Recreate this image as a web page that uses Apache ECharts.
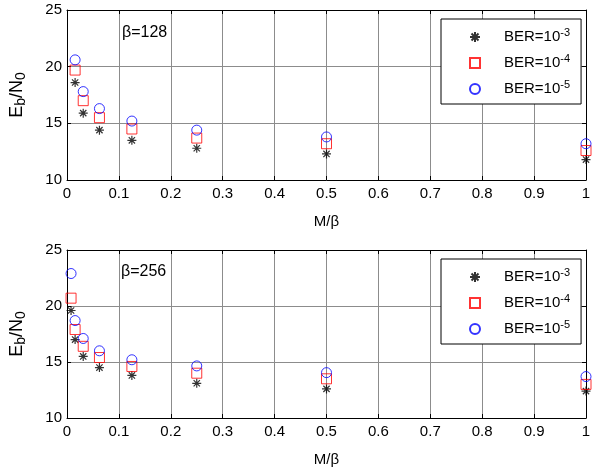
<!DOCTYPE html>
<html>
<head>
<meta charset="utf-8">
<script src="https://cdn.jsdelivr.net/npm/echarts@6/dist/echarts.min.js"></script>
<style>
  html, body { margin: 0; padding: 0; background: #fff; }
  #graphs { width: 595px; height: 468px; }
</style>
</head>
<body>
<div id="graphs"></div>
<script>
// values
var berNames = ['BER=10^-3', 'BER=10^-4', 'BER=10^-5'];
var xTicks = [0, 0.1, 0.2, 0.3, 0.4, 0.5, 0.6, 0.7, 0.8, 0.9, 1];
var yTicks = [10, 15, 20, 25];

// beta = 128, M/beta
var xTop = [0.015625, 0.03125, 0.0625, 0.125, 0.25, 0.5, 1];
var ber3Top = [18.6, 15.9, 14.4, 13.5, 12.8, 12.3, 11.8];
var ber4Top = [19.7, 17.0, 15.5, 14.5, 13.7, 13.2, 12.6];
var ber5Top = [20.6, 17.8, 16.3, 15.2, 14.4, 13.8, 13.2];

// beta = 256
var xBot = [0.0078125, 0.015625, 0.03125, 0.0625, 0.125, 0.25, 0.5, 1];
var ber3Bot = [19.6, 17.0, 15.5, 14.5, 13.8, 13.1, 12.6, 12.4];
var ber4Bot = [20.7, 17.9, 16.4, 15.4, 14.6, 14.0, 13.5, 13.0];
var ber5Bot = [22.9, 18.7, 17.1, 16.0, 15.2, 14.65, 14.05, 13.7];

var font = 'Liberation Sans, Arial, sans-serif';
var starPath = 'path://M5,0L5,10M0,5L10,5M1.5,1.5L8.5,8.5M1.5,8.5L8.5,1.5';

var myChart = echarts.init(document.getElementById('graphs'));

function pairs(xs, ys) {
    return xs.map(function (x, i) { return [x, ys[i]]; });
}

function xAxes(g) {
    return [{
        gridIndex: g, type: 'value', position: 'bottom',
        min: xTicks[0], max: xTicks[xTicks.length - 1], interval: 0.1,
        axisLine: { onZero: false, lineStyle: { color: '#000', width: 1 } },
        axisTick: { inside: true, length: 4, lineStyle: { color: '#000' } },
        axisLabel: { color: '#000', fontSize: 15, fontFamily: font, margin: 6 },
        splitLine: { show: true, lineStyle: { color: '#8c8c8c', width: 1 } },
        name: 'M/β', nameLocation: 'middle', nameGap: 34,
        nameTextStyle: { color: '#000', fontSize: 15, fontFamily: font }
    }, {
        gridIndex: g, type: 'value', position: 'top',
        min: xTicks[0], max: xTicks[xTicks.length - 1], interval: 0.1,
        axisLine: { onZero: false, lineStyle: { color: '#000', width: 1 } },
        axisTick: { inside: true, length: 4, lineStyle: { color: '#000' } },
        axisLabel: { show: false },
        splitLine: { show: false }
    }];
}

function yAxes(g) {
    return [{
        gridIndex: g, type: 'value', position: 'left',
        min: yTicks[0], max: yTicks[yTicks.length - 1], interval: 5,
        axisLine: { show: true, onZero: false, lineStyle: { color: '#000', width: 1 } },
        axisTick: { show: true, inside: true, length: 4, lineStyle: { color: '#000' } },
        axisLabel: { color: '#000', fontSize: 15, fontFamily: font, margin: 5 },
        splitLine: { show: true, lineStyle: { color: '#8c8c8c', width: 1 } },
        name: '{a|E}{s|b}{a|/N}{s|0}', nameLocation: 'middle', nameGap: 39, nameRotate: 90,
        nameTextStyle: {
            color: '#000', fontFamily: font,
            rich: {
                a: { fontSize: 18, fontFamily: font, color: '#000' },
                s: { fontSize: 14, fontFamily: font, color: '#000', padding: [8, 0, 0, 0] }
            }
        }
    }, {
        gridIndex: g, type: 'value', position: 'right',
        min: yTicks[0], max: yTicks[yTicks.length - 1], interval: 5,
        axisLine: { show: true, onZero: false, lineStyle: { color: '#000', width: 1 } },
        axisTick: { show: true, inside: true, length: 4, lineStyle: { color: '#000' } },
        axisLabel: { show: false },
        splitLine: { show: false }
    }];
}

function legendFor(top) {
    return {
        orient: 'vertical', left: 441, top: top,
        data: berNames,
        backgroundColor: '#fff', borderColor: '#000', borderWidth: 1, borderRadius: 0,
        padding: [8, 11, 5, 28],
        itemWidth: 10, itemHeight: 10, itemGap: 6,
        selectedMode: false,
        formatter: function (name) {
            return '{a|' + name.split('^')[0] + '}{s|' + name.split('^')[1] + '}';
        },
        textStyle: {
            rich: {
                a: { fontSize: 15, fontFamily: font, color: '#000', lineHeight: 14, padding: [0, 0, 0, 19] },
                s: { fontSize: 11, fontFamily: font, color: '#000', padding: [0, 0, 9, 0], lineHeight: 14 }
            }
        }
    };
}

function seriesFor(xi, xs, b3, b4, b5) {
    return [{
        name: berNames[0], type: 'scatter', xAxisIndex: xi, yAxisIndex: xi,
        symbol: starPath, symbolSize: 9,
        itemStyle: { color: 'rgba(0,0,0,0)', borderColor: '#000', borderWidth: 1.2 },
        data: pairs(xs, b3)
    }, {
        name: berNames[1], type: 'scatter', xAxisIndex: xi, yAxisIndex: xi,
        symbol: 'rect', symbolSize: 10,
        itemStyle: { color: 'rgba(0,0,0,0)', borderColor: '#ff0000', borderWidth: 1 },
        data: pairs(xs, b4)
    }, {
        name: berNames[2], type: 'scatter', xAxisIndex: xi, yAxisIndex: xi,
        symbol: 'circle', symbolSize: 10,
        itemStyle: { color: 'rgba(0,0,0,0)', borderColor: '#0000ff', borderWidth: 1 },
        data: pairs(xs, b5)
    }];
}

var option = {
    backgroundColor: '#fff',
    animation: false,
    grid: [
        { left: 66, right: 9, top: 10, height: 170 },
        { left: 66, right: 9, top: 250, height: 170 }
    ],
    xAxis: xAxes(0).concat(xAxes(1)),
    yAxis: yAxes(0).concat(yAxes(1)),
    legend: [legendFor(19), legendFor(259)],
    graphic: [
        { type: 'text', left: 122, top: 25, style: { text: 'β=128', font: '16px ' + font, fill: '#000' } },
        { type: 'text', left: 121, top: 264, style: { text: 'β=256', font: '16px ' + font, fill: '#000' } }
    ],
    series: seriesFor(0, xTop, ber3Top, ber4Top, ber5Top)
        .concat(seriesFor(2, xBot, ber3Bot, ber4Bot, ber5Bot))
};

myChart.setOption(option);
</script>
</body>
</html>
